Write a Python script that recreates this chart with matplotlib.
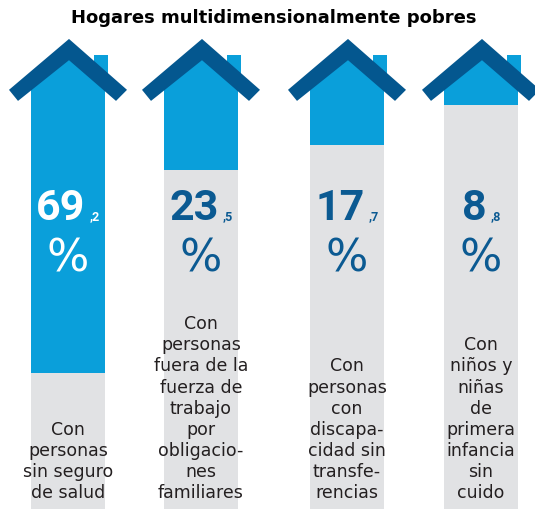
import matplotlib.pyplot as plt
from matplotlib.patches import Polygon, Rectangle

# data
values = [69.2, 23.5, 17.7, 8.8]
labels = [
    "Con\npersonas\nsin seguro\nde salud",
    "Con\npersonas\nfuera de la\nfuerza de\ntrabajo\npor\nobligacio-\nnes\nfamiliares",
    "Con\npersonas\ncon\ndiscapa-\ncidad sin\ntransfe-\nrencias",
    "Con\nniños y\nniñas\nde\nprimera\ninfancia\nsin\ncuido",
]
title = "Hogares multidimensionalmente pobres"

# style
BLUE = "#0A9FDA"
ROOF = "#04578F"
GRAY = "#E1E2E4"
NUM_DARK = "#0B5A92"
TXT = "#231F20"

centers = [68, 201, 347, 481]
width = 74

fig = plt.figure(figsize=(5.35, 5.09), dpi=100)
ax = fig.add_axes([0, 0, 1, 1])
ax.set_xlim(0, 535)
ax.set_ylim(0, 115)
ax.axis("off")

# gray body, blue fill from the top down
gray_bars = ax.bar(centers, [100] * len(values), width=width, bottom=0, color=GRAY, zorder=1)
blue_bars = ax.bar(centers, values, width=width, bottom=[100 - v for v in values],
                   color=BLUE, zorder=2)

for i, c in enumerate(centers):
    # house outline used to cut the bars under the roof
    house = Polygon([(c - 37, 0), (c - 37, 95.5), (c + 1, 103), (c + 37, 95.5), (c + 37, 0)],
                    closed=True, transform=ax.transData, fill=False, lw=0)
    gray_bars[i].set_clip_path(house)
    blue_bars[i].set_clip_path(house)

    # gable under the roof + chimney
    ax.add_patch(Polygon([(c - 37, 95), (c - 37, 95.5), (c + 1, 103), (c + 37, 95.5), (c + 37, 95)],
                         closed=True, color=BLUE, zorder=2, lw=0))
    ax.add_patch(Rectangle((c + 26, 95.5), 14, 7.1, color=BLUE, zorder=2, lw=0))
    # roof
    ax.add_patch(Polygon([(c - 59, 94.7), (c + 1, 106.2), (c + 59, 94.7),
                          (c + 48, 92.2), (c + 1, 101.4), (c - 50, 92.2)],
                         closed=True, color=ROOF, zorder=3, lw=0))

    v = values[i]
    whole, dec = f"{v:.1f}".split(".")
    col = "white" if i == 0 else NUM_DARK
    big = ax.text(c - 7, 65.3, whole, ha="center", va="baseline", fontsize=31,
                  fontweight="bold", family="Roboto", color=col, zorder=4)
    ax.annotate("," + dec, xy=(1, 65.3), xycoords=(big, "data"), xytext=(3, 0),
                textcoords="offset points", ha="left", va="baseline", fontsize=9,
                fontweight="bold", family="Roboto", color=col, zorder=4)
    ax.text(c, 56.5, "%", ha="center", va="center", fontsize=32, color=col, zorder=4)

    ax.text(c, 1.6, labels[i], ha="center", va="bottom", fontsize=12.5,
            linespacing=1.22, color=TXT, zorder=4)

ax.text(274, 110.9, title, ha="center", va="center", fontsize=13,
        fontweight="bold", color="black")

fig.savefig("out.png", dpi=100)
